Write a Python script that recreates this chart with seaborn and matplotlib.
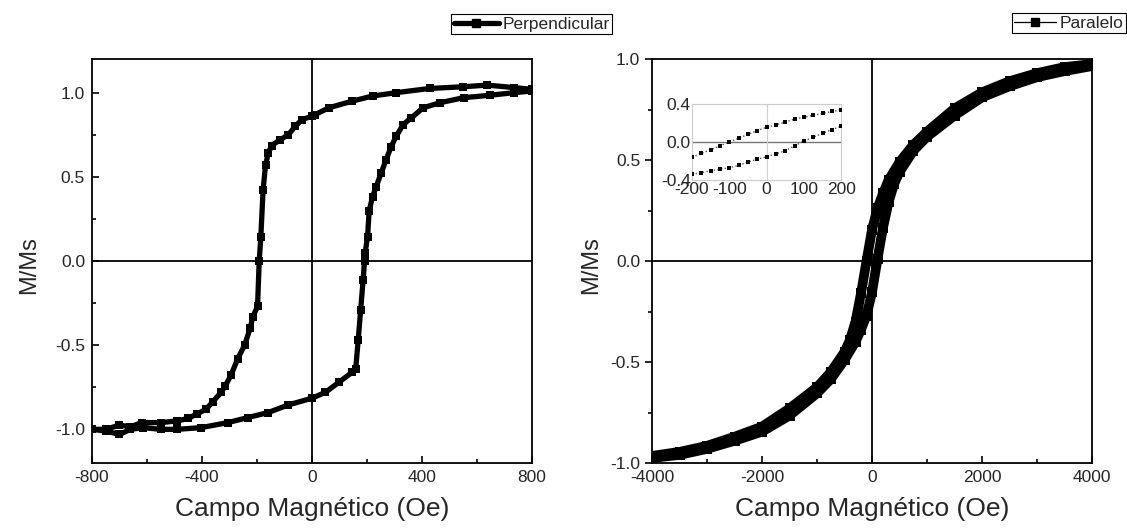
import matplotlib
matplotlib.use("Agg")
import matplotlib.pyplot as plt
from matplotlib.lines import Line2D
from matplotlib.ticker import MultipleLocator
import seaborn as sns
import pandas as pd

# ---------------- data ----------------
# Perpendicular loop: descending branch (+800 -> -800) then ascending branch
perp_down_x = [800, 735, 637, 550, 428, 306, 220, 147, 61, 12, 0, -37, -61, -86, -116,
               -147, -159, -169, -178, -186, -192, -198, -215, -225, -245, -270, -295,
               -315, -330, -360, -385, -420, -450, -490, -550, -620, -660, -700, -750, -800]
perp_down_y = [1.02, 1.03, 1.045, 1.035, 1.025, 1.0, 0.98, 0.95, 0.91, 0.87, 0.86, 0.84,
               0.80, 0.75, 0.72, 0.686, 0.64, 0.57, 0.42, 0.145, 0.0, -0.27, -0.33, -0.40,
               -0.50, -0.58, -0.68, -0.74, -0.78, -0.835, -0.88, -0.91, -0.935, -0.95,
               -0.96, -0.96, -0.985, -0.975, -1.0, -1.0]
perp_up_x = [-800, -750, -700, -660, -613, -550, -490, -404, -306, -233, -159, -86, 0, 49,
             98, 147, 159, 168, 177, 186, 191, 193, 202, 208, 220, 233, 251, 269, 288, 306,
             331, 361, 404, 465, 551, 649, 735, 800]
perp_up_y = [-1.0, -1.01, -1.03, -1.0, -0.99, -1.0, -1.0, -0.99, -0.96, -0.93, -0.9,
             -0.855, -0.815, -0.78, -0.72, -0.66, -0.64, -0.47, -0.29, -0.11, 0.0, 0.045,
             0.145, 0.30, 0.38, 0.44, 0.52, 0.60, 0.68, 0.74, 0.81, 0.85, 0.91, 0.94, 0.97,
             0.985, 1.0, 1.01]

# Paralelo loop
par_down_x = [4000, 3500, 3000, 2500, 2000, 1500, 1000, 750, 500, 300, 200, 100, 0, -100,
              -200, -300, -400, -500, -750, -1000, -1500, -2000, -2500, -3000, -3500, -4000]
par_down_y = [0.975, 0.96, 0.93, 0.89, 0.835, 0.755, 0.64, 0.575, 0.49, 0.40, 0.335, 0.26,
              0.155, 0.0, -0.16, -0.30, -0.39, -0.45, -0.55, -0.625, -0.73, -0.82, -0.87,
              -0.915, -0.945, -0.965]
par_up_x = [-4000, -3500, -3000, -2500, -2000, -1500, -1000, -750, -500, -300, -200, -100,
            0, 100, 200, 300, 400, 500, 750, 1000, 1500, 2000, 2500, 3000, 3500, 4000]
par_up_y = [-0.975, -0.96, -0.93, -0.89, -0.845, -0.765, -0.655, -0.585, -0.49, -0.40,
            -0.34, -0.27, -0.155, 0.01, 0.165, 0.29, 0.38, 0.44, 0.545, 0.615, 0.72, 0.81,
            0.865, 0.91, 0.94, 0.965]

# Inset (zoom of Paralelo loop)
ins_x = [-200, -175, -150, -125, -100, -75, -50, -25, 0, 25, 50, 75, 100, 125, 150, 175, 200]
ins_upper_y = [-0.16, -0.12, -0.08, -0.04, 0.0, 0.04, 0.08, 0.12, 0.155, 0.18, 0.21, 0.24,
               0.26, 0.28, 0.30, 0.32, 0.335]
ins_lower_y = [-0.34, -0.32, -0.30, -0.285, -0.27, -0.245, -0.21, -0.18, -0.155, -0.125,
               -0.09, -0.04, 0.01, 0.05, 0.09, 0.13, 0.165]

left_xticks = [-800, -400, 0, 400, 800]
left_yticks = [-1.0, -0.5, 0.0, 0.5, 1.0]
right_xticks = [-4000, -2000, 0, 2000, 4000]
right_yticks = [-1.0, -0.5, 0.0, 0.5, 1.0]

# ---------------- style ----------------
sns.set_theme(style="ticks")
plt.rcParams["font.family"] = ["Liberation Sans", "DejaVu Sans"]
plt.rcParams["axes.linewidth"] = 1.3

fig = plt.figure(figsize=(11.27, 5.29), dpi=100)
ax1 = fig.add_axes([92 / 1127, 1 - 463 / 529, 440 / 1127, 404 / 529])
ax2 = fig.add_axes([652 / 1127, 1 - 463 / 529, 440 / 1127, 404 / 529])

perp = pd.DataFrame({"H": perp_down_x + perp_up_x, "M": perp_down_y + perp_up_y})
par = pd.DataFrame({"H": par_down_x + par_up_x, "M": par_down_y + par_up_y})

for ax in (ax1, ax2):
    ax.axhline(0, color="black", lw=1.3, zorder=1)
    ax.axvline(0, color="black", lw=1.3, zorder=1)
    for s in ax.spines.values():
        s.set_color("black")
        s.set_linewidth(1.3)

sns.lineplot(data=perp, x="H", y="M", sort=False, estimator=None, ax=ax1,
             color="black", lw=3.8, marker="s", markersize=5.5, markeredgewidth=0,
             zorder=3)
sns.lineplot(data=par, x="H", y="M", sort=False, estimator=None, ax=ax2,
             color="black", lw=7, marker="s", markersize=6.5, markeredgewidth=0,
             zorder=3)

ax1.set_xlim(-800, 800)
ax1.set_ylim(-1.2, 1.2)
ax1.set_xticks(left_xticks)
ax1.set_xticklabels([str(v) for v in left_xticks])
ax1.set_yticks(left_yticks)
ax1.set_yticklabels([f"{v:.1f}" for v in left_yticks])
ax1.xaxis.set_minor_locator(MultipleLocator(200))
ax1.yaxis.set_minor_locator(MultipleLocator(0.25))
ax1.tick_params(axis="both", which="both", direction="in", labelsize=12.5, color="black")
ax1.tick_params(which="major", length=5, width=1.2)
ax1.tick_params(which="minor", length=3, width=1.2)
ax1.tick_params(axis="x", pad=5)
ax1.tick_params(axis="y", pad=5)

ax2.set_xlim(-4000, 4000)
ax2.set_ylim(-1.0, 1.0)
ax2.set_xticks(right_xticks)
ax2.set_xticklabels([str(v) for v in right_xticks])
ax2.set_yticks(right_yticks)
ax2.set_yticklabels([f"{v:.1f}" for v in right_yticks])
ax2.xaxis.set_minor_locator(MultipleLocator(1000))
ax2.yaxis.set_minor_locator(MultipleLocator(0.25))
ax2.tick_params(axis="x", which="both", direction="in", color="black")
ax2.tick_params(axis="y", which="both", direction="out", color="black")
ax2.tick_params(which="both", labelsize=12.5)
ax2.tick_params(which="major", length=5, width=1.2)
ax2.tick_params(which="minor", length=3, width=1.2)
ax2.tick_params(axis="x", pad=5)

for ax, ycoord in ((ax1, -0.118), (ax2, -0.114)):
    ax.set_xlabel("Campo Magnético (Oe)", fontsize=19)
    ax.set_ylabel("M/Ms", fontsize=17)
    ax.xaxis.set_label_coords(0.5, -0.085)
    ax.yaxis.set_label_coords(ycoord, 0.49)

# inset
axin = ax2.inset_axes([0.091, 0.70, 0.339, 0.189])
axin.axhline(0, color="#777777", lw=1.0, zorder=1)
axin.axvline(0, color="#d0d0d0", lw=0.8, zorder=1)
axin.plot(ins_x, ins_upper_y, ls=":", color="#555555", lw=1.0, marker="s",
          markersize=2.2, markerfacecolor="black", markeredgewidth=0, zorder=3)
axin.plot(ins_x, ins_lower_y, ls=":", color="#555555", lw=1.0, marker="s",
          markersize=2.2, markerfacecolor="black", markeredgewidth=0, zorder=3)
axin.set_xlim(-200, 200)
axin.set_ylim(-0.4, 0.4)
axin.set_xticks([-200, -100, 0, 100, 200])
axin.set_xticklabels(["-200", "-100", "0", "100", "200"])
axin.set_yticks([-0.4, 0.0, 0.4])
axin.set_yticklabels(["-0.4", "0.0", "0.4"])
axin.tick_params(length=0, labelsize=12.5, pad=1)
for s in axin.spines.values():
    s.set_color("#cccccc")
    s.set_linewidth(0.8)
axin.set_facecolor("white")

# legends
h1 = Line2D([], [], color="black", lw=3.8, marker="s", markersize=6)
h2 = Line2D([], [], color="black", lw=0.9, marker="s", markersize=6)
leg1 = ax1.legend([h1], ["Perpendicular"], loc="upper right",
                  bbox_to_anchor=(612 / 1127, 1 - 14 / 529), bbox_transform=fig.transFigure,
                  fontsize=12.5, frameon=True, fancybox=False, edgecolor="black",
                  handlelength=2.6, handletextpad=0.2, borderpad=0.15, borderaxespad=0)
leg2 = ax2.legend([h2], ["Paralelo"], loc="upper right",
                  bbox_to_anchor=(1126 / 1127, 1 - 13 / 529), bbox_transform=fig.transFigure,
                  fontsize=12.5, frameon=True, fancybox=False, edgecolor="black",
                  handlelength=2.4, handletextpad=0.2, borderpad=0.15, borderaxespad=0)
for lg in (leg1, leg2):
    lg.get_frame().set_linewidth(0.8)
    lg.get_frame().set_alpha(1)

fig.savefig("out.png", dpi=100, facecolor="white")
